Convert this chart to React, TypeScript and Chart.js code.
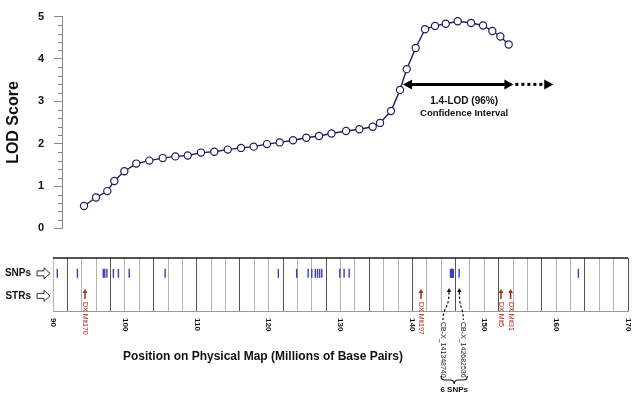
import React, { useEffect, useRef } from 'react';
import { Chart, registerables } from 'chart.js';
Chart.register(...registerables);

// ---------- data ----------
const LOD_POS = [94.31, 95.98, 97.55, 98.53, 99.92, 101.59, 103.4, 105.26, 107.02, 108.74, 110.59, 112.44, 114.31, 116.16, 117.92, 119.77, 121.54, 123.39, 125.24, 127.01, 128.75, 130.77, 132.62, 134.48, 135.5, 137.03, 138.28, 139.21, 140.46, 141.76, 143.15, 144.64, 146.31, 148.16, 149.83, 151.12, 152.24, 153.4];
const LOD_SCORE = [0.53, 0.73, 0.88, 1.12, 1.35, 1.53, 1.6, 1.66, 1.7, 1.72, 1.79, 1.81, 1.86, 1.9, 1.93, 1.99, 2.03, 2.08, 2.14, 2.18, 2.24, 2.3, 2.34, 2.4, 2.49, 2.77, 3.27, 3.76, 4.26, 4.7, 4.78, 4.83, 4.89, 4.85, 4.79, 4.66, 4.53, 4.34];
const LOD_TICKS_MAX = 5;

const X_MIN = 90;
const X_MAX = 170;
const X_TICK_LABELS = [90, 100, 110, 120, 130, 140, 150, 160, 170];
const GRID_STEP = 2;

const SNP_POS = [90.6, 93.4, 97.0, 97.2, 97.5, 98.4, 99.1, 100.6, 105.6, 121.35, 123.9, 125.5, 126.0, 126.5, 126.8, 127.1, 127.4, 129.9, 130.5, 131.2, 145.3, 145.4, 145.5, 145.6, 145.7, 146.5, 163.1];
const STR_NAMES = ['DX Mit170', 'DX Mit197', 'DX Mit5', 'DX Mit31'];
const STR_POS = [94.45, 141.2, 152.33, 153.67];
const CB_NAMES = ['CB-X_141348740', 'CB-X_142682536'];
const CB_POS = [145.1, 146.53];
const CB_GROUP_LABEL = '6 SNPs';

const CI_LOW = 138.7;
const CI_HIGH = 154.05;
const CI_EXT = 159.6;
const CI_LOD = 3.4;
const CI_TEXT = ['1.4-LOD (96%)', 'Confidence Interval'];
const CI_TEXT_POS = 147.2;

const ROW_LABELS = ['SNPs', 'STRs'];
const ROW_Y = [0.71, 0.285];
const SNP_ROW = 0.71;
const STR_TIP = 0.415;
const CB_TIP = 0.434;

const X_TITLE = 'Position on Physical Map (Millions of Base Pairs)';

// ---------- styles ----------
const FONT = "'Liberation Sans', Arial, Helvetica, sans-serif";
const NAVY = '#1e1e5c';
const BLUE = '#3d3db8';
const RED_TXT = '#b0241c';
const RED_ARR = '#9a3418';

function vText(ctx: CanvasRenderingContext2D, text: string, x: number, y: number) {
  ctx.save();
  ctx.translate(x, y);
  ctx.rotate(Math.PI / 2);
  ctx.textAlign = 'left';
  ctx.textBaseline = 'middle';
  ctx.fillText(text, 0, 0);
  ctx.restore();
}

const topPlugin = {
  id: 'topExtras',
  afterDraw(chart: any) {
    const { ctx, chartArea } = chart;
    const xs = chart.scales.x;
    const ys = chart.scales.y;
    ctx.save();
    // minor ticks
    ctx.strokeStyle = '#888';
    ctx.lineWidth = 1;
    for (let i = 1; i < LOD_TICKS_MAX * 5; i++) {
      if (i % 5 === 0) continue;
      const py = Math.round(ys.getPixelForValue(i / 5)) + 0.5;
      ctx.beginPath();
      ctx.moveTo(chartArea.left - 4, py);
      ctx.lineTo(chartArea.left, py);
      ctx.stroke();
    }
    // CI arrow
    const y = ys.getPixelForValue(CI_LOD);
    const x1 = xs.getPixelForValue(CI_LOW);
    const x2 = xs.getPixelForValue(CI_HIGH);
    const x3 = xs.getPixelForValue(CI_EXT);
    ctx.fillStyle = '#000';
    ctx.strokeStyle = '#000';
    ctx.lineWidth = 3;
    ctx.beginPath();
    ctx.moveTo(x1 + 6, y);
    ctx.lineTo(x2 - 6, y);
    ctx.stroke();
    const head = (tx: number, dir: number) => {
      ctx.beginPath();
      ctx.moveTo(tx, y);
      ctx.lineTo(tx - dir * 9, y - 5);
      ctx.lineTo(tx - dir * 9, y + 5);
      ctx.closePath();
      ctx.fill();
    };
    head(x1, -1);
    head(x2, 1);
    ctx.setLineDash([3, 3]);
    ctx.beginPath();
    ctx.moveTo(x2 + 2, y);
    ctx.lineTo(x3 - 8, y);
    ctx.stroke();
    ctx.setLineDash([]);
    head(x3, 1);
    // text
    const tx = xs.getPixelForValue(CI_TEXT_POS);
    ctx.fillStyle = '#111';
    ctx.textAlign = 'center';
    ctx.textBaseline = 'middle';
    ctx.font = `bold 10px ${FONT}`;
    ctx.fillText(CI_TEXT[0], tx, y + 17);
    ctx.font = `bold 9.5px ${FONT}`;
    ctx.fillText(CI_TEXT[1], tx, y + 29);
    ctx.restore();
  },
};

const bottomPlugin = {
  id: 'bottomExtras',
  afterDraw(chart: any) {
    const { ctx, chartArea } = chart;
    const xs = chart.scales.x;
    const ys = chart.scales.y;
    ctx.save();
    // top border
    ctx.strokeStyle = '#1a1a1a';
    ctx.lineWidth = 1.6;
    ctx.beginPath();
    ctx.moveTo(chartArea.left, chartArea.top);
    ctx.lineTo(chartArea.right, chartArea.top);
    ctx.stroke();

    // row labels with hollow arrows
    ROW_LABELS.forEach((lab, i) => {
      const py = ys.getPixelForValue(ROW_Y[i]);
      ctx.fillStyle = '#111';
      ctx.font = `bold 10px ${FONT}`;
      ctx.textAlign = 'right';
      ctx.textBaseline = 'middle';
      ctx.fillText(lab, 31, py);
      ctx.beginPath();
      ctx.moveTo(37, py - 2.5);
      ctx.lineTo(44, py - 2.5);
      ctx.lineTo(44, py - 5.5);
      ctx.lineTo(50, py);
      ctx.lineTo(44, py + 5.5);
      ctx.lineTo(44, py + 2.5);
      ctx.lineTo(37, py + 2.5);
      ctx.closePath();
      ctx.fillStyle = '#fff';
      ctx.fill();
      ctx.strokeStyle = '#333';
      ctx.lineWidth = 1;
      ctx.stroke();
    });

    // STR arrows
    STR_POS.forEach((v, i) => {
      const px = xs.getPixelForValue(v);
      const tip = ys.getPixelForValue(STR_TIP);
      ctx.fillStyle = RED_ARR;
      ctx.strokeStyle = RED_ARR;
      ctx.lineWidth = 1.5;
      ctx.beginPath();
      ctx.moveTo(px, tip);
      ctx.lineTo(px - 2.5, tip + 4);
      ctx.lineTo(px + 2.5, tip + 4);
      ctx.closePath();
      ctx.fill();
      ctx.beginPath();
      ctx.moveTo(px, tip + 3);
      ctx.lineTo(px, tip + 10);
      ctx.stroke();
      ctx.fillStyle = RED_TXT;
      ctx.font = `7px ${FONT}`;
      vText(ctx, STR_NAMES[i], px, tip + 13);
    });

    // CB dashed arrows
    const offs = [-6, 4];
    const cbx: number[] = [];
    CB_POS.forEach((v, i) => {
      const px = xs.getPixelForValue(v);
      cbx.push(px);
      const tip = ys.getPixelForValue(CB_TIP);
      ctx.fillStyle = '#111';
      ctx.beginPath();
      ctx.moveTo(px, tip);
      ctx.lineTo(px - 2.2, tip + 4);
      ctx.lineTo(px + 2.2, tip + 4);
      ctx.closePath();
      ctx.fill();
      ctx.strokeStyle = '#111';
      ctx.lineWidth = 1.2;
      ctx.setLineDash([2.5, 2]);
      ctx.beginPath();
      ctx.moveTo(px, tip + 4);
      ctx.bezierCurveTo(px, tip + 22, px + offs[i], tip + 18, px + offs[i], tip + 32);
      ctx.stroke();
      ctx.setLineDash([]);
      ctx.font = `7px ${FONT}`;
      ctx.fillStyle = '#222';
      vText(ctx, CB_NAMES[i], px + offs[i], tip + 34);
    });
    // brace
    const xa = cbx[0] - 8;
    const xb = cbx[1] + 8;
    const mid = (xa + xb) / 2;
    const by = 140;
    ctx.strokeStyle = '#111';
    ctx.lineWidth = 1.2;
    ctx.beginPath();
    ctx.moveTo(xa, by - 4);
    ctx.quadraticCurveTo(xa, by, xa + 4, by);
    ctx.lineTo(mid - 4, by);
    ctx.quadraticCurveTo(mid, by, mid, by + 4);
    ctx.quadraticCurveTo(mid, by, mid + 4, by);
    ctx.lineTo(xb - 4, by);
    ctx.quadraticCurveTo(xb, by, xb, by - 4);
    ctx.stroke();
    ctx.fillStyle = '#111';
    ctx.font = `bold 8px ${FONT}`;
    ctx.textAlign = 'center';
    ctx.textBaseline = 'middle';
    ctx.fillText(CB_GROUP_LABEL, mid, by + 10);

    // x tick labels (rotated clockwise)
    ctx.fillStyle = '#111';
    ctx.font = `bold 8px ${FONT}`;
    X_TICK_LABELS.forEach((v) => {
      vText(ctx, String(v), xs.getPixelForValue(v), chartArea.bottom + 7);
    });

    // x title
    ctx.font = `bold 12px ${FONT}`;
    ctx.textAlign = 'center';
    ctx.textBaseline = 'middle';
    ctx.fillText(X_TITLE, 263, 117);
    ctx.restore();
  },
};

export default function App() {
  const topRef = useRef<HTMLCanvasElement>(null);
  const botRef = useRef<HTMLCanvasElement>(null);

  useEffect(() => {
    Chart.defaults.font.family = FONT;
    const top = new Chart(topRef.current!, {
      type: 'line',
      data: {
        datasets: [
          {
            data: LOD_POS.map((x, i) => ({ x, y: LOD_SCORE[i] })),
            borderColor: NAVY,
            borderWidth: 1.4,
            pointRadius: 3.6,
            pointBorderWidth: 1.2,
            pointBackgroundColor: '#fff',
            pointBorderColor: NAVY,
            tension: 0,
            fill: false,
          },
        ],
      },
      options: {
        responsive: false,
        animation: false,
        devicePixelRatio: 1,
        layout: { padding: { left: 0, right: 12, top: 16, bottom: 11 } },
        plugins: { legend: { display: false }, tooltip: { enabled: false } },
        scales: {
          x: { type: 'linear', min: 91.25, max: X_MAX, display: false },
          y: {
            min: 0,
            max: LOD_TICKS_MAX,
            ticks: { stepSize: 1, padding: 10, color: '#111', font: { size: 11, weight: 'bold' } },
            grid: { drawOnChartArea: false, tickLength: 8, tickColor: '#888' },
            border: { color: '#888' },
            title: {
              display: true,
              text: 'LOD Score',
              color: '#111',
              font: { size: 16, weight: 'bold' },
              padding: { top: 4, bottom: 0 },
            },
            afterFit: (s: any) => {
              s.width = 62;
            },
          },
        },
      } as any,
      plugins: [topPlugin],
    });

    const bot = new Chart(botRef.current!, {
      type: 'scatter',
      data: {
        datasets: [
          {
            data: SNP_POS.map((x) => ({ x, y: SNP_ROW })),
            pointStyle: 'line',
            pointRotation: 90,
            pointRadius: 4.5,
            pointBorderWidth: 1.4,
            pointBorderColor: BLUE,
            pointBackgroundColor: BLUE,
          },
        ],
      },
      options: {
        responsive: false,
        animation: false,
        devicePixelRatio: 1,
        layout: { padding: { left: 53, right: 12, top: 18, bottom: 89 } },
        plugins: { legend: { display: false }, tooltip: { enabled: false } },
        scales: {
          x: {
            type: 'linear',
            min: X_MIN,
            max: X_MAX,
            ticks: { display: false, stepSize: GRID_STEP, maxTicksLimit: 100, autoSkip: false },
            grid: {
              drawTicks: false,
              lineWidth: 1,
              color: (c: any) => {
                const v = c.tick ? c.tick.value : 0;
                return ((v - 92) % 6 + 6) % 6 === 0 ? '#555' : '#b4b4b4';
              },
            },
            border: { color: '#999' },
            afterFit: (s: any) => {
              s.height = 0;
            },
          },
          y: { display: false, min: 0, max: 1 },
        },
      } as any,
      plugins: [bottomPlugin],
    });

    return () => {
      top.destroy();
      bot.destroy();
    };
  }, []);

  return (
    <div style={{ position: 'fixed', left: 0, top: 0, width: 640, height: 400, background: '#fff' }}>
      <canvas ref={topRef} width={640} height={245} style={{ position: 'absolute', left: 0, top: 0, width: 640, height: 245 }} />
      <canvas ref={botRef} width={640} height={160} style={{ position: 'absolute', left: 0, top: 240, width: 640, height: 160 }} />
    </div>
  );
}
